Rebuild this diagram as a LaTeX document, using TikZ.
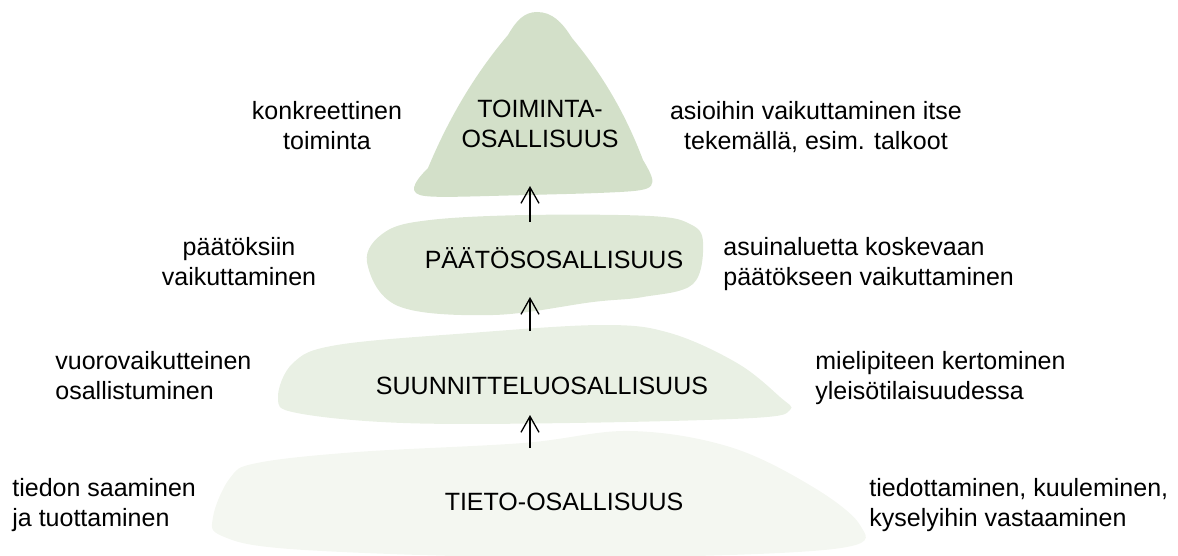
\documentclass[tikz,border=0pt]{standalone}
\usepackage{fontspec}
\setmainfont{Liberation Sans}
\usetikzlibrary{arrows.meta}
\definecolor{toimcol}{RGB}{211,224,201}
\definecolor{paatcol}{RGB}{222,232,214}
\definecolor{suuncol}{RGB}{233,240,228}
\definecolor{tietcol}{RGB}{244,247,241}
\begin{document}
\begin{tikzpicture}[x=0.5pt,y=-0.5pt,
  every node/.style={font=\fontsize{12.5}{15}\selectfont,inner sep=0pt},
  blobtext/.style={anchor=base,align=center},
  note/.style={anchor=base west,align=left},
  notec/.style={anchor=base,align=center},
  blob/.style={smooth cycle,tension=0.6},
  up/.style={-{Straight Barb[length=8pt,width=9pt]},line width=0.65pt}]
\useasboundingbox (0,0) rectangle (1178,556);
\fill[tietcol] plot[blob] coordinates {(213,517) (230,478) (257,463) (357,452) (523,443) (630,431) (730,447) (813,487) (860,525) (847,547) (697,556) (500,557) (290,549) (222,536)};
\fill[suuncol] plot[blob] coordinates {(278,398) (293,363) (337,345) (470,333) (603,325) (670,333) (737,363) (780,397) (790,410) (753,418) (570,423) (403,423) (297,413)};
\fill[paatcol] plot[blob] coordinates {(367,262) (385,232) (430,220) (527,215) (650,216) (690,224) (703,242) (693,284) (643,297) (593,302) (493,315) (398,306)};
\fill[toimcol] (537,12) .. controls (552,12) and (562,22) .. (572,38) .. controls (603,75) and (626,115) .. (643,160)
  .. controls (660,188) and (655,190) .. (620,192) .. controls (580,194) and (560,194) .. (530,195)
  .. controls (480,196) and (440,198) .. (425,196) .. controls (408,194) and (412,184) .. (428,168)
  .. controls (448,120) and (474,75) .. (508,35) .. controls (516,21) and (524,12) .. (537,12) -- cycle;
\node[blobtext] (toiminta) at (540,148) {TOIMINTA-\\OSALLISUUS};
\node[blobtext] (paatos) at (554,268) {PÄÄTÖSOSALLISUUS};
\node[blobtext] (suunnittelu) at (542,394) {SUUNNITTELUOSALLISUUS};
\node[blobtext] (tieto) at (564,510) {TIETO-OSALLISUUS};
\node[notec] (toimL) at (327,149) {konkreettinen\\toiminta};
\node[notec] (toimR) at (816,149) {asioihin vaikuttaminen itse\\tekemällä, esim. talkoot};
\node[notec] (paatL) at (239,285) {päätöksiin\\vaikuttaminen};
\node[note] (paatR) at (723,285) {asuinaluetta koskevaan\\päätökseen vaikuttaminen};
\node[note] (suunL) at (55,399) {vuorovaikutteinen\\osallistuminen};
\node[note] (suunR) at (815,399) {mielipiteen kertominen\\yleisötilaisuudessa};
\node[note] (tietL) at (12,526) {tiedon saaminen\\ja tuottaminen};
\node[note] (tietR) at (869,526) {tiedottaminen, kuuleminen,\\kyselyihin vastaaminen};
\coordinate (toiminta-s) at (530,186);
\coordinate (paatos-n) at (530,222);
\coordinate (paatos-s) at (530,297);
\coordinate (suunnittelu-n) at (530,331);
\coordinate (suunnittelu-s) at (530,415);
\coordinate (tieto-n) at (530,448);
\draw[up] (paatos-n) -- (toiminta-s);
\draw[up] (suunnittelu-n) -- (paatos-s);
\draw[up] (tieto-n) -- (suunnittelu-s);
\end{tikzpicture}
\end{document}
